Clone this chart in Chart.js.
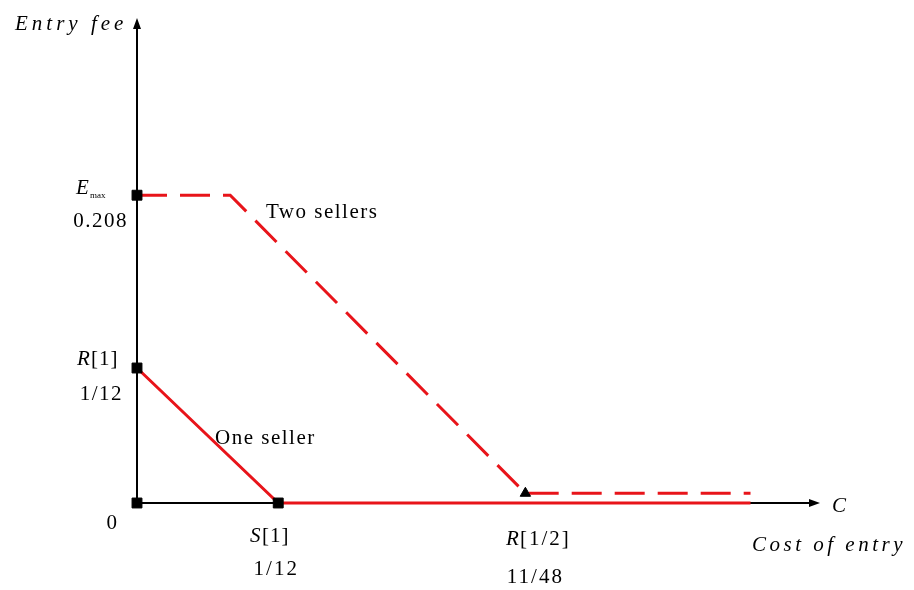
<!DOCTYPE html>
<html>
<head>
<meta charset="utf-8">
<script src="https://cdn.jsdelivr.net/npm/chart.js@4"></script>
<style>
  html, body { margin: 0; padding: 0; background: #fff; }
  #wrap { width: 914px; height: 590px; }
</style>
</head>
<body>
<div id="wrap"><canvas id="fig"></canvas></div>
<script>
// values (axis units, schematic)
const S1 = 1 / 12;
const R_HALF = 11 / 48;
const X_END = 0.362;
const X_KINK = 0.055;
const Y_TOP = 0.19;
const Y_TAIL = 0.006;

const twoSellersX = [0, X_KINK, R_HALF, X_END];
const twoSellersY = [Y_TOP, Y_TOP, Y_TAIL, Y_TAIL];
const oneSellerX = [0, S1, X_END];
const oneSellerY = [S1, 0, 0];
const markX = [0, 0, 0, S1];
const markY = [0, S1, Y_TOP, 0];

const X_MAX = 0.403;
const Y_MAX = 0.2994;

function pts(xs, ys) {
    return xs.map((x, i) => ({ x: x, y: ys[i] }));
}

const serif = '"Liberation Serif", "DejaVu Serif", serif';

const axesPlugin = {
    id: 'axes',
    beforeDatasetsDraw(chart) {
        const ctx = chart.ctx;
        const x = chart.scales.x, y = chart.scales.y;
        const x0 = x.getPixelForValue(0), y0 = y.getPixelForValue(0);
        const xr = x.getPixelForValue(X_MAX), yt = y.getPixelForValue(Y_MAX);
        ctx.save();
        ctx.strokeStyle = '#000';
        ctx.fillStyle = '#000';
        ctx.lineWidth = 2;
        ctx.beginPath();
        ctx.moveTo(x0, y0); ctx.lineTo(xr - 6, y0);
        ctx.moveTo(x0, y0); ctx.lineTo(x0, yt + 6);
        ctx.stroke();
        ctx.beginPath();
        ctx.moveTo(xr, y0); ctx.lineTo(xr - 11, y0 - 4); ctx.lineTo(xr - 11, y0 + 4); ctx.closePath();
        ctx.moveTo(x0, yt); ctx.lineTo(x0 - 4, yt + 11); ctx.lineTo(x0 + 4, yt + 11); ctx.closePath();
        ctx.fill();
        ctx.restore();
    },
    afterDatasetsDraw(chart) {
        const ctx = chart.ctx;
        const x = chart.scales.x, y = chart.scales.y;
        const px = v => x.getPixelForValue(v);
        const py = v => y.getPixelForValue(v);
        ctx.save();
        ctx.fillStyle = '#000';
        ctx.textBaseline = 'alphabetic';
        const t = (s, X, Y, font, align, sp) => {
            ctx.font = font;
            ctx.letterSpacing = (sp || 0) + 'px';
            ctx.textAlign = align || 'left';
            ctx.fillText(s, X, Y);
        };
        const reg = '21px ' + serif;
        const ital = 'italic 21px ' + serif;
        t('Entry fee', 15, 30, ital, 'left', 4);
        t('E', 76, 194, ital);
        t('max', 90, 198, '9px ' + serif);
        t('0.208', px(0) - 9, py(Y_TOP) + 32, reg, 'right', 1.5);
        t('R', 77, 365, ital);
        t('[1]', 91, 365, reg, 'left', 1);
        t('1/12', px(0) - 14, py(S1) + 32, reg, 'right', 1.5);
        t('0', px(0) - 20, py(0) + 26, reg, 'right');
        t('S', 250, 542, ital);
        t('[1]', 262, 542, reg, 'left', 1);
        t('1/12', px(S1) - 2, py(0) + 72, reg, 'center', 2);
        t('R', 506, 545, ital);
        t('[1/2]', 520, 545, reg, 'left', 2);
        t('11/48', px(R_HALF) + 10, py(0) + 80, reg, 'center', 2);
        t('C', 832, 512, ital);
        t('Cost of entry', 752, 551, ital, 'left', 3.5);
        t('Two sellers', 266, 218, reg, 'left', 1.5);
        t('One seller', 215, 444, reg, 'left', 1.5);
        ctx.restore();
    }
};

new Chart(document.getElementById('fig'), {
    type: 'scatter',
    data: {
        datasets: [
            {
                label: 'Two sellers',
                data: pts(twoSellersX, twoSellersY),
                showLine: true,
                borderColor: '#e8141a',
                borderWidth: 3,
                borderDash: [30, 13],
                pointRadius: 0,
                fill: false,
                clip: false,
                order: 2
            },
            {
                label: 'One seller',
                data: pts(oneSellerX, oneSellerY),
                showLine: true,
                borderColor: '#e8141a',
                borderWidth: 3,
                pointRadius: 0,
                fill: false,
                clip: false,
                order: 2
            },
            {
                label: 'marks',
                data: pts(markX, markY),
                pointStyle: 'rect',
                pointRadius: 7,
                backgroundColor: '#000',
                borderColor: '#000',
                clip: false,
                order: 0
            },
            {
                label: 'R half',
                data: [{ x: R_HALF, y: Y_TAIL }],
                pointStyle: 'triangle',
                pointRadius: 6,
                backgroundColor: '#000',
                borderColor: '#000',
                clip: false,
                order: 0
            }
        ]
    },
    options: {
        responsive: true,
        maintainAspectRatio: false,
        animation: false,
        layout: { padding: { left: 137, right: 94, top: 18, bottom: 87 } },
        plugins: { legend: { display: false }, tooltip: { enabled: false } },
        scales: {
            x: { type: 'linear', min: 0, max: X_MAX, display: false },
            y: { type: 'linear', min: 0, max: Y_MAX, display: false }
        }
    },
    plugins: [axesPlugin]
});
</script>
</body>
</html>
